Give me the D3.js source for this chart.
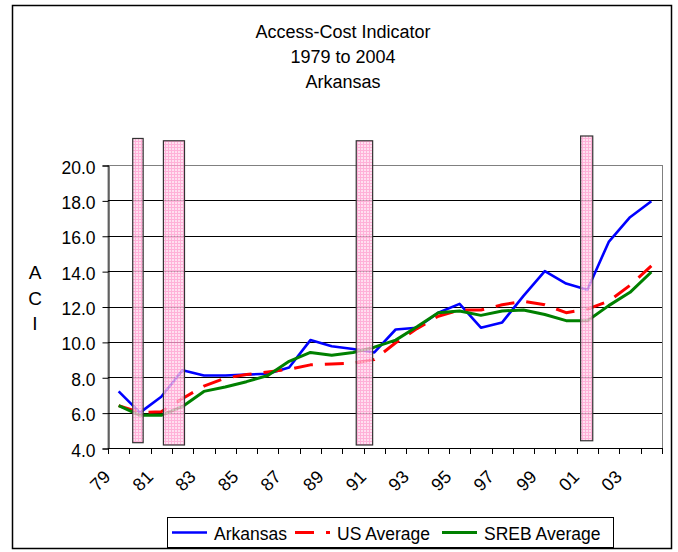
<!DOCTYPE html>
<html>
<head>
<meta charset="utf-8">
<script src="https://cdn.jsdelivr.net/npm/d3@7"></script>
<style>
  body { margin: 0; background: #fff; }
  svg { display: block; font-family: 'Liberation Sans', Arial, sans-serif; }
</style>
</head>
<body>
<svg id="chart" width="678" height="552"></svg>
<script>
// data
var years = ['1979', '1980', '1981', '1982', '1983', '1984', '1985', '1986', '1987',
  '1988', '1989', '1990', '1991', '1992', '1993', '1994', '1995', '1996', '1997',
  '1998', '1999', '2000', '2001', '2002', '2003', '2004'];
var arkansas = [7.2, 6.0, 6.9, 8.4, 8.1, 8.1, 8.15, 8.2, 8.55, 10.1, 9.75, 9.6, 9.4,
  10.7, 10.8, 11.65, 12.15, 10.8, 11.1, 12.6, 14.0, 13.3, 12.95, 15.65, 17.05, 17.95];
var usAverage = [6.4, 6.0, 6.05, 6.8, 7.5, 7.95, 8.15, 8.3, 8.45, 8.7, 8.75, 8.8, 9.0,
  9.95, 10.75, 11.45, 11.8, 11.8, 12.1, 12.3, 12.1, 11.65, 11.85, 12.3, 13.2, 14.3];
var srebAverage = [6.4, 5.85, 5.85, 6.35, 7.2, 7.45, 7.75, 8.1, 8.9, 9.4, 9.25, 9.4, 9.7,
  10.1, 10.85, 11.65, 11.75, 11.5, 11.75, 11.8, 11.55, 11.2, 11.2, 12.05, 12.8, 13.95];
var yTicks = [4, 6, 8, 10, 12, 14, 16, 18, 20];
var xLabels = ['79', '81', '83', '85', '87', '89', '91', '93', '95', '97', '99', '01', '03'];
// recession shading: [from year, to year, low ACI, high ACI]
var recessions = [
  [1979.66, 1980.15, 4.3, 21.5],
  [1981.10, 1982.09, 4.17, 21.37],
  [1990.15, 1990.92, 4.17, 21.37],
  [2000.68, 2001.25, 4.41, 21.64]
];
var titleLines = ['Access-Cost Indicator', '1979 to 2004', 'Arkansas'];

var series = [
  { name: 'Arkansas', values: arkansas, color: '#0000ff', width: 2.6, dash: null },
  { name: 'US Average', values: usAverage, color: '#ff0000', width: 3, dash: '19,12' },
  { name: 'SREB Average', values: srebAverage, color: '#008000', width: 3, dash: null }
];

var svg = d3.select('#chart');
var plot = { left: 108, right: 662, top: 165, bottom: 448 };

var x = d3.scaleBand().domain(years).range([plot.left, plot.right]).paddingInner(0).paddingOuter(0);
var y = d3.scaleLinear().domain([4, 20]).range([plot.bottom, plot.top]);
var xYear = d3.scaleLinear()
  .domain([1979, 2004])
  .range([x('1979') + x.bandwidth() / 2, x('2004') + x.bandwidth() / 2]);

// pink checked fill for recession bars
var defs = svg.append('defs');
var pat = defs.append('pattern')
  .attr('id', 'pinkgrid')
  .attr('patternUnits', 'userSpaceOnUse')
  .attr('width', 3).attr('height', 3);
pat.append('rect').attr('width', 3).attr('height', 3).attr('fill', '#ffd8ec');
pat.append('path').attr('d', 'M0,0.5H3M0.5,0V3').attr('stroke', '#ff9dce').attr('stroke-width', 1);

// outer frame
svg.append('rect')
  .attr('x', 12.5).attr('y', 5.5)
  .attr('width', 659).attr('height', 543)
  .attr('fill', '#fff')
  .attr('stroke', '#000').attr('stroke-width', 1.5);

// title
svg.append('g').selectAll('text')
  .data(titleLines)
  .enter().append('text')
  .attr('x', 343)
  .attr('y', function (d, i) { return 38 + i * 25.2; })
  .attr('text-anchor', 'middle')
  .style('font-size', '18px')
  .text(function (d) { return d; });

// plot border (top and right in grey)
svg.append('rect')
  .attr('x', plot.left).attr('y', plot.top + 0.5)
  .attr('width', plot.right - plot.left + 0.5).attr('height', plot.bottom - plot.top)
  .attr('fill', 'none').attr('stroke', '#808080').attr('stroke-width', 1);

// gridlines
svg.append('g').selectAll('line')
  .data(yTicks.slice(1, -1))
  .enter().append('line')
  .attr('x1', plot.left).attr('x2', plot.right)
  .attr('y1', function (d) { return Math.round(y(d)) + 0.5; })
  .attr('y2', function (d) { return Math.round(y(d)) + 0.5; })
  .attr('stroke', '#000').attr('stroke-width', 1);

// y axis
var yAxis = d3.axisLeft(y)
  .tickValues(yTicks)
  .tickSize(6)
  .tickPadding(7)
  .tickFormat(d3.format('.1f'));
var gy = svg.append('g')
  .attr('transform', 'translate(' + (plot.left + 0.5) + ',0.5)')
  .call(yAxis);
gy.selectAll('text').style('font-size', '17.5px').attr('fill', '#000').attr('dy', '0.43em');
gy.selectAll('line, path').attr('stroke', '#000');

// x axis: ticks at category boundaries
var gx = svg.append('g');
gx.append('line')
  .attr('x1', plot.left).attr('x2', plot.right + 0.5)
  .attr('y1', plot.bottom + 0.5).attr('y2', plot.bottom + 0.5)
  .attr('stroke', '#000');
gx.selectAll('.tick')
  .data(years.concat(['end']))
  .enter().append('line')
  .attr('class', 'tick')
  .attr('x1', function (d, i) { return Math.round(plot.left + i * x.bandwidth()) + 0.5; })
  .attr('x2', function (d, i) { return Math.round(plot.left + i * x.bandwidth()) + 0.5; })
  .attr('y1', plot.bottom).attr('y2', plot.bottom + 6)
  .attr('stroke', '#000');
gx.selectAll('.lbl')
  .data(xLabels)
  .enter().append('text')
  .attr('class', 'lbl')
  .attr('text-anchor', 'end')
  .attr('transform', function (d, i) {
    var cx = x(years[i * 2]) + x.bandwidth() / 2 - 7;
    return 'translate(' + cx + ',478) rotate(-45)';
  })
  .style('font-size', '18px')
  .text(function (d) { return d; });

// y axis title, stacked letters
svg.append('g').selectAll('text')
  .data(['A', 'C', 'I'])
  .enter().append('text')
  .attr('x', 35)
  .attr('y', function (d, i) { return 279 + i * 25.5; })
  .attr('text-anchor', 'middle')
  .style('font-size', '19px')
  .text(function (d) { return d; });

// lines
var line = d3.line()
  .x(function (d, i) { return x(years[i]) + x.bandwidth() / 2; })
  .y(function (d) { return y(d); });

svg.append('g').selectAll('path')
  .data(series)
  .enter().append('path')
  .attr('d', function (s) { return line(s.values); })
  .attr('fill', 'none')
  .attr('stroke', function (s) { return s.color; })
  .attr('stroke-width', function (s) { return s.width; })
  .attr('stroke-dasharray', function (s) { return s.dash; })
  .attr('stroke-linejoin', 'round');

// recession bars, drawn over the lines
svg.append('g').selectAll('rect')
  .data(recessions)
  .enter().append('rect')
  .attr('x', function (d) { return xYear(d[0]); })
  .attr('width', function (d) { return xYear(d[1]) - xYear(d[0]); })
  .attr('y', function (d) { return y(d[3]); })
  .attr('height', function (d) { return y(d[2]) - y(d[3]); })
  .attr('fill', 'url(#pinkgrid)')
  .attr('fill-opacity', 0.8)
  .attr('stroke', '#333')
  .attr('stroke-width', 1.2);

// legend
var legend = svg.append('g');
legend.append('rect')
  .attr('x', 167.5).attr('y', 517.5)
  .attr('width', 446).attr('height', 30)
  .attr('fill', '#fff').attr('stroke', '#000').attr('stroke-width', 1);
var legendX = [172, 295, 442];
var item = legend.selectAll('.item')
  .data(series)
  .enter().append('g')
  .attr('class', 'item')
  .attr('transform', function (d, i) { return 'translate(' + legendX[i] + ',532.5)'; });
item.append('line')
  .attr('x1', 0).attr('x2', 35)
  .attr('stroke', function (s) { return s.color; })
  .attr('stroke-width', function (s) { return s.width; })
  .attr('stroke-dasharray', function (s) { return s.dash; });
item.append('text')
  .attr('x', 42).attr('y', 7.5)
  .style('font-size', '17.5px')
  .text(function (s) { return s.name; });
</script>
</body>
</html>
